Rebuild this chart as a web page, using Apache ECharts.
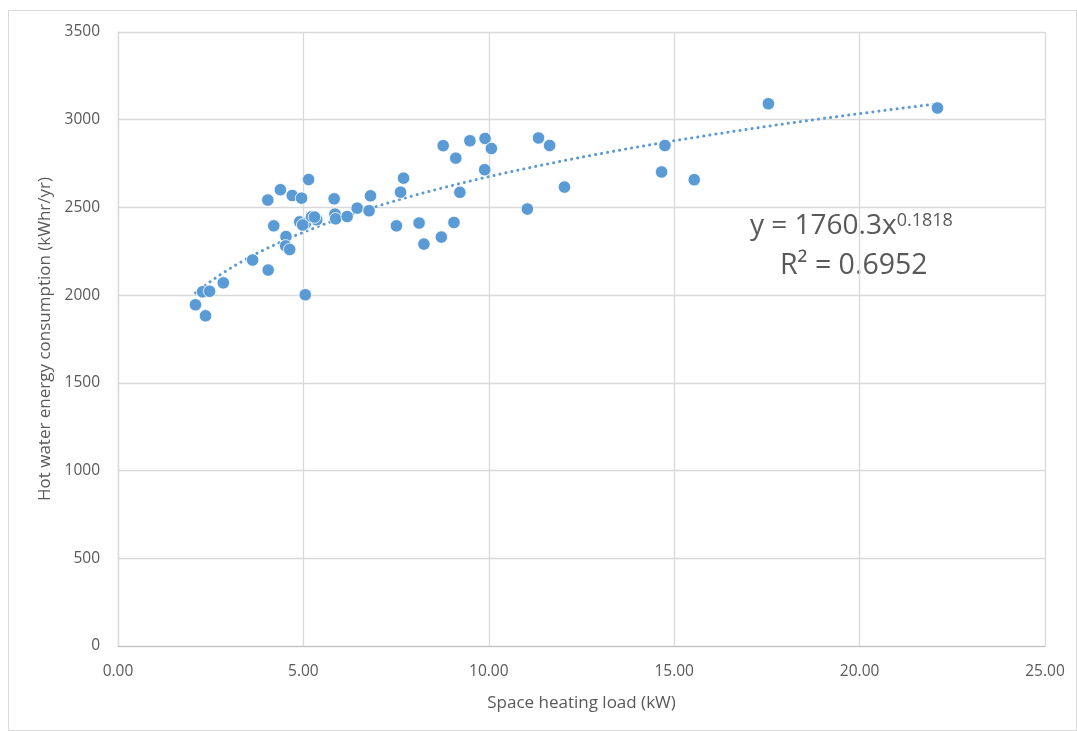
<!DOCTYPE html>
<html>
<head>
<meta charset="utf-8">
<script src="https://cdn.jsdelivr.net/npm/echarts@6/dist/echarts.min.js"></script>
<style>
  html, body { margin: 0; padding: 0; background: #fff; }
  #frame { position: absolute; left: 8px; top: 10px; width: 1069px; height: 721px; border: 1px solid #d9d9d9; box-sizing: border-box; }
  #chart { width: 1077px; height: 731px; }
</style>
</head>
<body>
<div id="frame"></div>
<div id="chart"></div>
<script>
// space heating load (kW)
const heatingLoad = [
  2.09, 2.28, 2.36, 2.47, 2.84, 3.63, 4.05, 4.04, 4.20, 4.38,
  4.53, 4.52, 4.63, 4.70, 4.95, 5.14, 4.90, 5.06, 5.22, 5.36,
  4.98, 5.30, 5.05, 5.83, 5.85, 5.87, 6.18, 6.45, 6.77, 6.81,
  7.70, 7.62, 7.51, 8.12, 8.25, 8.72, 9.06, 9.22, 8.77, 9.11,
  9.49, 9.90, 10.07, 9.89, 11.04, 11.34, 11.64, 12.04, 14.75, 14.66,
  15.54, 17.54, 22.10
]
// hot water energy consumption (kWhr/yr)
const hotWater = [
  1945, 2019, 1882, 2022, 2070, 2200, 2143, 2542, 2395, 2601,
  2334, 2281, 2260, 2568, 2553, 2659, 2418, 2410, 2447, 2430,
  2400, 2445, 2002, 2549, 2462, 2435, 2448, 2496, 2481, 2566,
  2667, 2587, 2395, 2411, 2291, 2331, 2414, 2586, 2852, 2781,
  2880, 2893, 2836, 2715, 2491, 2896, 2853, 2616, 2853, 2702,
  2658, 3091, 3067
]
const xTicks = ['0.00', '5.00', '10.00', '15.00', '20.00', '25.00']
const yTicks = [0, 500, 1000, 1500, 2000, 2500, 3000, 3500]

// power trendline shown in the chart: y = 1760.3 x^0.1818
const trendA = 1760.3
const trendB = 0.1818

const xMin = Math.min(...heatingLoad)
const xMax = Math.max(...heatingLoad)
const trend = []
for (let i = 0; i <= 60; i++) {
  const x = xMin + (xMax - xMin) * i / 60
  trend.push([x, trendA * Math.pow(x, trendB)])
}

const chart = echarts.init(document.getElementById('chart'))
const font = '"Open Sans", "Noto Sans", sans-serif'
chart.setOption({
  animation: false,
  grid: { left: 118, right: 32, top: 32, bottom: 85 },
  xAxis: {
    type: 'value',
    min: 0, max: 25, interval: 5,
    name: 'Space heating load (kW)',
    nameLocation: 'middle',
    nameGap: 49,
    nameTextStyle: { color: '#595959', fontSize: 17, fontFamily: font },
    axisLine: { show: true, lineStyle: { color: '#bfbfbf' } },
    axisTick: { show: false },
    splitLine: { show: true, lineStyle: { color: '#d9d9d9', width: 1.3 } },
    axisLabel: {
      color: '#595959', fontSize: 15.5, fontFamily: font, margin: 18,
      formatter: v => xTicks[v / 5]
    }
  },
  yAxis: {
    type: 'value',
    min: 0, max: 3500, interval: 500,
    name: 'Hot water energy consumption (kWhr/yr)',
    nameLocation: 'middle',
    nameGap: 61,
    nameTextStyle: { color: '#595959', fontSize: 17, fontFamily: font },
    axisLine: { show: true, lineStyle: { color: '#d9d9d9', width: 1.3 } },
    axisTick: { show: false },
    splitLine: { show: true, lineStyle: { color: '#d9d9d9', width: 1.3 } },
    axisLabel: {
      color: '#595959', fontSize: 15.5, fontFamily: font, margin: 18,
      formatter: v => yTicks.includes(v) ? String(v) : ''
    }
  },
  series: [
    {
      type: 'scatter',
      symbolSize: 12.5,
      itemStyle: { color: '#5b9bd5', opacity: 1, borderColor: '#ffffff', borderWidth: 0.8 },
      data: heatingLoad.map((x, i) => [x, hotWater[i]]),
      z: 3
    },
    {
      type: 'line',
      showSymbol: false,
      smooth: false,
      lineStyle: { color: '#5b9bd5', width: 3, type: [0.1, 6], cap: 'round' },
      data: trend,
      z: 2
    }
  ],
  graphic: [
    {
      type: 'text',
      left: 750, top: 212,
      style: {
        text: '{a|y = 1760.3x}{b|0.1818}',
        rich: {
          a: { fontSize: 28, fontFamily: font, fill: '#595959', verticalAlign: 'bottom' },
          b: { fontSize: 18, fontFamily: font, fill: '#595959', verticalAlign: 'top', padding: [0, 0, 10, 0] }
        }
      }
    },
    {
      type: 'text',
      left: 780, top: 251,
      style: { text: 'R² = 0.6952', fontSize: 28.5, fontFamily: font, fill: '#595959' }
    }
  ]
})
</script>
</body>
</html>
